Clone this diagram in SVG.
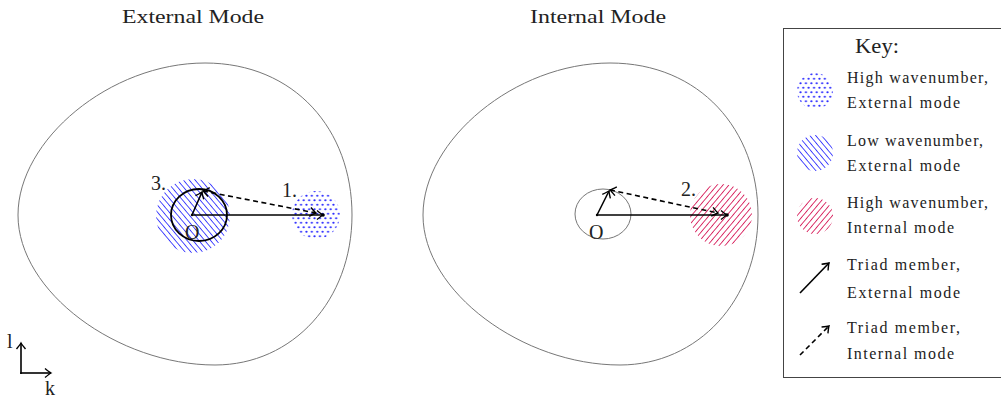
<svg xmlns="http://www.w3.org/2000/svg" width="1001" height="397" viewBox="0 0 1001 397">
<style>
.t{font-family:"Liberation Serif","DejaVu Serif",serif;fill:#222}
.title{font-size:19px}
.key{font-size:16px}
.lbl{font-size:20px}
.egg{fill:none;stroke:#777;stroke-width:1}
.vec{stroke:#000;stroke-width:1.6;fill:none}
.dash{stroke:#000;stroke-width:1.6;fill:none;stroke-dasharray:5 3.5}
</style>
<defs>
<pattern id="dots" width="5.4" height="9" patternUnits="userSpaceOnUse">
<circle cx="1.35" cy="2.25" r="1.1" fill="#2a2aff"/>
<circle cx="4.05" cy="6.75" r="1.1" fill="#2a2aff"/>
</pattern>
<pattern id="hb" width="4.5" height="4.5" patternUnits="userSpaceOnUse" patternTransform="rotate(-40)">
<line x1="2.25" y1="0" x2="2.25" y2="4.5" stroke="#3a3aff" stroke-width="0.9"/>
</pattern>
<pattern id="hr" width="4.5" height="4.5" patternUnits="userSpaceOnUse" patternTransform="rotate(40)">
<line x1="2.25" y1="0" x2="2.25" y2="4.5" stroke="#d8235f" stroke-width="0.9"/>
</pattern>
<marker id="ah" markerWidth="12" markerHeight="12" viewBox="-8 -6 10 12" refX="0" refY="0" orient="auto-start-reverse" markerUnits="userSpaceOnUse">
<path d="M -6 -4.5 Q -1.5 -0.8 0 0 Q -1.5 0.8 -6 4.5" fill="none" stroke="#000" stroke-width="1.4"/>
</marker>
</defs>

<g id="titles">
<text class="t title" x="193" y="23" text-anchor="middle" textLength="142" lengthAdjust="spacingAndGlyphs">External Mode</text>
<text class="t title" x="598" y="23" text-anchor="middle" textLength="136" lengthAdjust="spacingAndGlyphs">Internal Mode</text>
</g>

<g id="external-panel">
<path class="egg" d="M 18 215 C 18 140, 110 63, 205 63 C 295 63, 352 130, 352 215 C 352 300, 293 365, 215 365 C 118 365, 18 292, 18 215 Z"/>
<circle cx="193" cy="216" r="37" fill="url(#hb)"/>
<circle cx="316" cy="215" r="24" fill="url(#dots)"/>
<ellipse cx="199" cy="215" rx="28" ry="26" fill="none" stroke="#000" stroke-width="1.8"/>
<text class="t lbl" x="185" y="239">O</text>
<text class="t lbl" x="151" y="190">3.</text>
<text class="t lbl" x="282" y="197">1.</text>
</g>

<g id="internal-panel">
<path class="egg" d="M 423 215 C 423 140, 515 63, 610 63 C 700 63, 758 130, 758 215 C 758 300, 698 365, 620 365 C 523 365, 423 292, 423 215 Z"/>
<circle cx="721" cy="215" r="31" fill="url(#hr)"/>
<ellipse cx="603" cy="214" rx="28" ry="25" fill="none" stroke="#777" stroke-width="1"/>
<text class="t lbl" x="589" y="239">O</text>
<text class="t lbl" x="681" y="196">2.</text>
</g>

<g id="connectors">
<line class="vec" x1="192" y1="215" x2="323" y2="215" marker-end="url(#ah)"/>
<line class="vec" x1="192" y1="215" x2="202" y2="192" marker-end="url(#ah)"/>
<line class="dash" x1="203" y1="191" x2="316" y2="213" marker-start="url(#ah)" marker-end="url(#ah)"/>
<circle cx="323" cy="215" r="1.8" fill="#000"/>
<line class="vec" x1="597" y1="215" x2="727" y2="215" marker-end="url(#ah)"/>
<line class="vec" x1="597" y1="215" x2="609" y2="191" marker-end="url(#ah)"/>
<line class="dash" x1="610" y1="190" x2="718" y2="213" marker-start="url(#ah)" marker-end="url(#ah)"/>
<circle cx="727" cy="215" r="1.8" fill="#000"/>
<circle cx="192" cy="215" r="1.2" fill="#000"/>
<circle cx="597" cy="215" r="1.2" fill="#000"/>
</g>

<g id="axes">
<line class="vec" x1="21" y1="374" x2="21" y2="343" marker-end="url(#ah)"/>
<line class="vec" x1="20.2" y1="373" x2="51" y2="373" marker-end="url(#ah)"/>
<text class="t lbl" x="7" y="348">l</text>
<text class="t lbl" x="45" y="395">k</text>
</g>

<g id="key">
<rect x="783.5" y="28.5" width="222" height="349" fill="none" stroke="#444" stroke-width="1"/>
<text class="t" x="855" y="53" font-size="21" textLength="44" lengthAdjust="spacingAndGlyphs">Key:</text>
<circle cx="815" cy="91" r="18" fill="url(#dots)"/>
<text class="t key" x="847" y="83" textLength="141" lengthAdjust="spacing">High wavenumber,</text>
<text class="t key" x="847" y="108" textLength="113" lengthAdjust="spacing">External mode</text>
<circle cx="815" cy="153" r="18" fill="url(#hb)"/>
<text class="t key" x="847" y="146" textLength="136" lengthAdjust="spacing">Low wavenumber,</text>
<text class="t key" x="847" y="171" textLength="113" lengthAdjust="spacing">External mode</text>
<circle cx="815" cy="216" r="18" fill="url(#hr)"/>
<text class="t key" x="847" y="208" textLength="141" lengthAdjust="spacing">High wavenumber,</text>
<text class="t key" x="847" y="233" textLength="107" lengthAdjust="spacing">Internal mode</text>
<line class="vec" x1="800" y1="293" x2="829" y2="263" marker-end="url(#ah)"/>
<text class="t key" x="847" y="270" textLength="113" lengthAdjust="spacing">Triad member,</text>
<text class="t key" x="847" y="298" textLength="113" lengthAdjust="spacing">External mode</text>
<line class="dash" x1="800" y1="355" x2="829" y2="326" marker-end="url(#ah)"/>
<text class="t key" x="847" y="333" textLength="113" lengthAdjust="spacing">Triad member,</text>
<text class="t key" x="847" y="359" textLength="107" lengthAdjust="spacing">Internal mode</text>
</g>
</svg>
